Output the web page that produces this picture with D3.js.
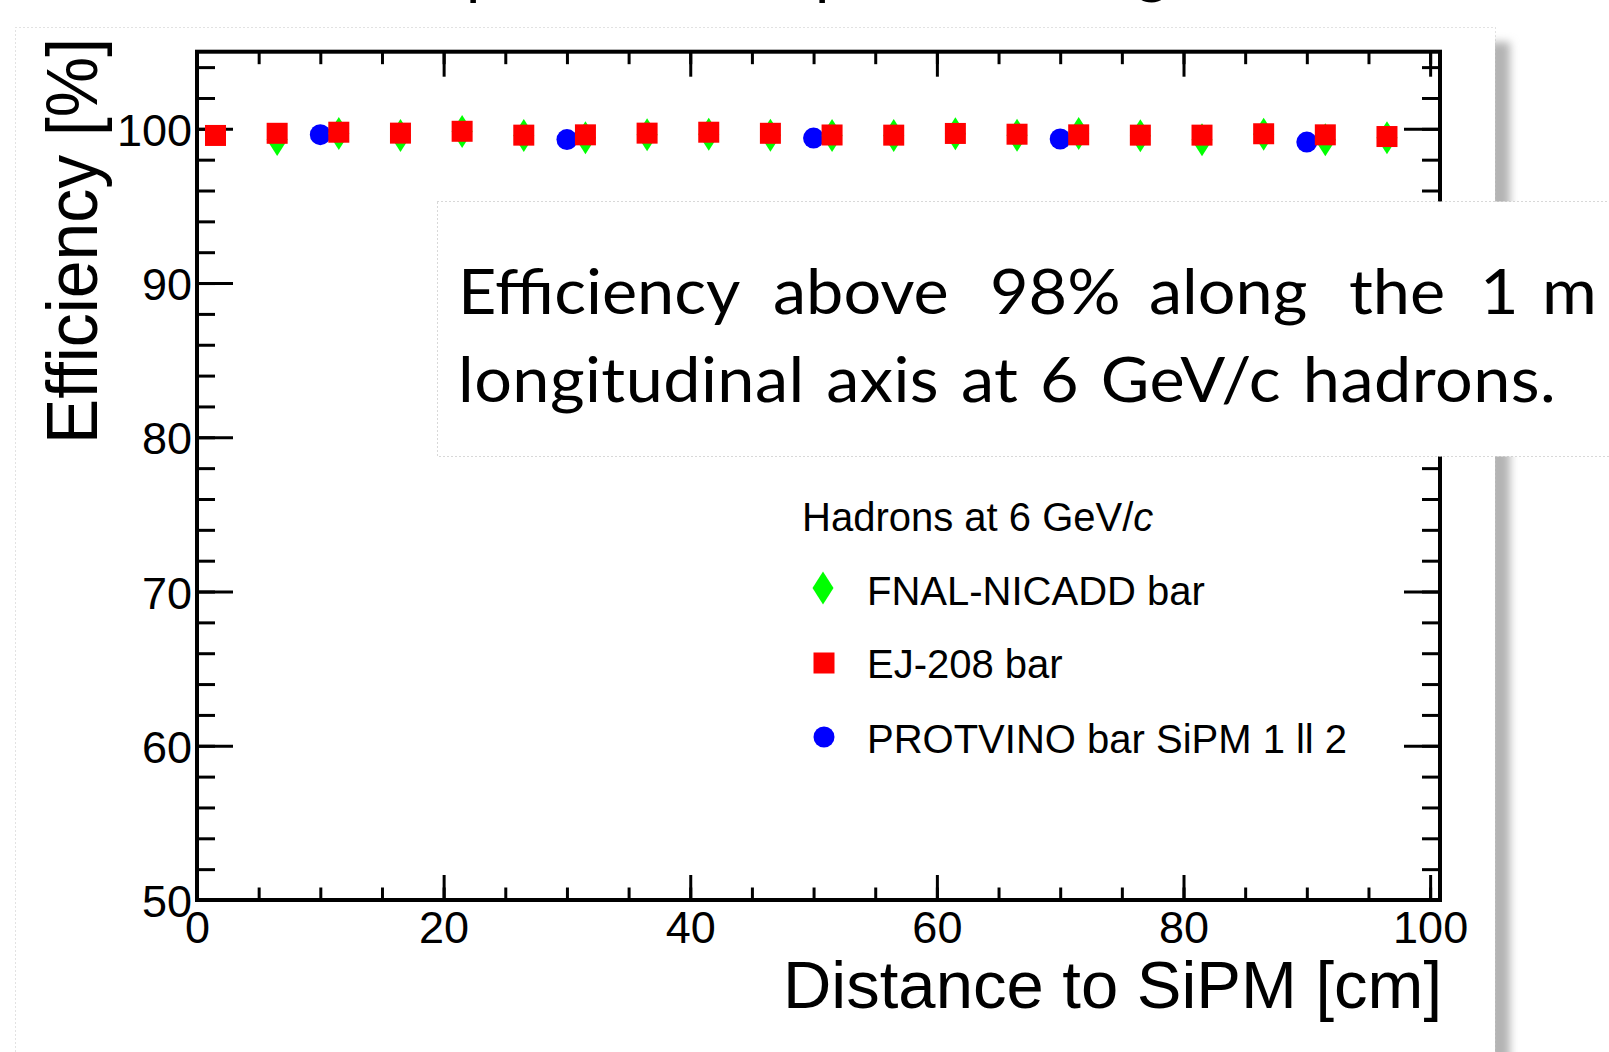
<!DOCTYPE html>
<html>
<head>
<meta charset="utf-8">
<script src="https://cdn.jsdelivr.net/npm/d3@7/dist/d3.min.js"></script>
<style>
  html, body { margin: 0; padding: 0; background: #fff; overflow: hidden; }
  svg { display: block; }
  .axis text { font-family: "Liberation Sans", Arial, sans-serif; font-size: 45px; fill: #000; }
</style>
</head>
<body>
<svg id="chart" width="1609" height="1052"></svg>
<script>
// ---------------- data ----------------
const distEJ   = [1.5, 6.5, 11.5, 16.5, 21.5, 26.5, 31.5, 36.5, 41.5, 46.5, 51.5, 56.5, 61.5, 66.5, 71.5, 76.5, 81.5, 86.5, 91.5, 96.5];
const effEJ    = [99.57, 99.71, 99.78, 99.72, 99.84, 99.59, 99.61, 99.72, 99.78, 99.71, 99.60, 99.59, 99.70, 99.65, 99.61, 99.59, 99.59, 99.68, 99.61, 99.50];
const distFNAL = [6.5, 11.5, 16.5, 21.5, 26.5, 31.5, 36.5, 41.5, 46.5, 51.5, 56.5, 61.5, 66.5, 71.5, 76.5, 81.5, 86.5, 91.5, 96.5];
const effFNAL  = [99.31, 99.70, 99.57, 99.83, 99.57, 99.42, 99.61, 99.64, 99.59, 99.57, 99.57, 99.68, 99.59, 99.70, 99.55, 99.29, 99.65, 99.29, 99.42];
const distProt = [10, 30, 50, 70, 90];
const effProt  = [99.62, 99.30, 99.40, 99.34, 99.14];

const xMajorTicks = [0, 20, 40, 60, 80, 100];
const xMinorTicks = d3.range(0, 101, 5);
const yMajorTicks = [50, 60, 70, 80, 90, 100];
const yMinorTicks = d3.range(50, 105, 2);

const xTitle = "Distance to SiPM [cm]";
const yTitle = "Efficiency [%]";
const legendTitle = "Hadrons at 6 GeV/";
const legendTitleItalic = "c";
const seriesNames = ["FNAL-NICADD bar", "EJ-208 bar", "PROTVINO bar SiPM 1 ll 2"];
const seriesColors = ["#00ff00", "#ff0000", "#0000ff"];

const noteLine1 = ["Efficiency", "above", "98%", "along", "the", "1", "m"];
const noteLine1X = [458, 773, 990, 1149, 1349, 1480, 1542];
const noteLine2 = "longitudinal axis at 6 GeV/c hadrons.";

// ---------------- layout ----------------
const svg = d3.select("#chart");
const frame = { left: 197, right: 1440, top: 51.7, bottom: 900 };

const x = d3.scaleLinear().domain([0, 100.8]).range([frame.left, frame.right]);
const y = d3.scaleLinear().domain([50, 105]).range([frame.bottom, frame.top]);

const defs = svg.append("defs");
const blur = defs.append("filter").attr("id", "shadowBlur").attr("x", "-50%").attr("y", "-5%").attr("width", "200%").attr("height", "110%");
blur.append("feGaussianBlur").attr("stdDeviation", 4);

// slide title fragments (cut off at top edge)
const titleFrag = svg.append("g").attr("font-family", "Lato, sans-serif").attr("font-size", 62).attr("fill", "#000");
titleFrag.append("text").attr("x", 466).attr("y", -8).text("p");
titleFrag.append("text").attr("x", 815).attr("y", -8).text("p");
titleFrag.append("text").attr("x", 1136).attr("y", -9).text("g");

// picture shadow on the right
svg.append("rect").attr("x", 1488).attr("y", 42).attr("width", 22).attr("height", 1100)
  .attr("fill", "#b4b4b4").attr("filter", "url(#shadowBlur)");
// white picture area
svg.append("rect").attr("x", 15).attr("y", 27).attr("width", 1480).attr("height", 1100).attr("fill", "#fff");
svg.append("rect").attr("x", 15.5).attr("y", 27.5).attr("width", 1480).attr("height", 1100)
  .attr("fill", "none").attr("stroke", "#c4c4c4").attr("stroke-width", 1).attr("stroke-dasharray", "1 3");

// ---------------- axes ----------------
function styleAxis(g) {
  g.select(".domain").remove();
  g.selectAll(".tick line").attr("stroke", "#000").attr("stroke-width", 3);
}
// bottom
svg.append("g").attr("class", "axis").attr("transform", `translate(0,${frame.bottom})`)
  .call(d3.axisBottom(x).tickValues(xMinorTicks).tickSizeInner(-12.5).tickSizeOuter(0).tickFormat(""))
  .call(styleAxis);
svg.append("g").attr("class", "axis").attr("transform", `translate(0,${frame.bottom})`)
  .call(d3.axisBottom(x).tickValues(xMajorTicks).tickSizeInner(-25).tickSizeOuter(0).tickPadding(11).tickFormat(d3.format("d")))
  .call(styleAxis);
// top
svg.append("g").attr("class", "axis").attr("transform", `translate(0,${frame.top})`)
  .call(d3.axisTop(x).tickValues(xMinorTicks).tickSizeInner(-12.5).tickSizeOuter(0).tickFormat(""))
  .call(styleAxis);
svg.append("g").attr("class", "axis").attr("transform", `translate(0,${frame.top})`)
  .call(d3.axisTop(x).tickValues(xMajorTicks).tickSizeInner(-25).tickSizeOuter(0).tickFormat(""))
  .call(styleAxis);
// left
svg.append("g").attr("class", "axis").attr("transform", `translate(${frame.left},0)`)
  .call(d3.axisLeft(y).tickValues(yMinorTicks).tickSizeInner(-18).tickSizeOuter(0).tickFormat(""))
  .call(styleAxis);
const yAxisG = svg.append("g").attr("class", "axis").attr("transform", `translate(${frame.left},0)`)
  .call(d3.axisLeft(y).tickValues(yMajorTicks).tickSizeInner(-36).tickSizeOuter(0).tickPadding(5).tickFormat(d3.format("d")))
  .call(styleAxis);
yAxisG.selectAll(".tick text").attr("dy", "0.37em");
// right
svg.append("g").attr("class", "axis").attr("transform", `translate(${frame.right},0)`)
  .call(d3.axisRight(y).tickValues(yMinorTicks).tickSizeInner(-18).tickSizeOuter(0).tickFormat(""))
  .call(styleAxis);
svg.append("g").attr("class", "axis").attr("transform", `translate(${frame.right},0)`)
  .call(d3.axisRight(y).tickValues(yMajorTicks).tickSizeInner(-36).tickSizeOuter(0).tickFormat(""))
  .call(styleAxis);

// frame
svg.append("rect").attr("x", frame.left).attr("y", frame.top)
  .attr("width", frame.right - frame.left).attr("height", frame.bottom - frame.top)
  .attr("fill", "none").attr("stroke", "#000").attr("stroke-width", 4);

// titles
svg.append("text").attr("x", 1442).attr("y", 1008).attr("text-anchor", "end")
  .attr("font-family", "Liberation Sans, Arial, sans-serif").attr("font-size", 67).text(xTitle);
svg.append("text").attr("transform", "translate(97,38) rotate(-90)").attr("text-anchor", "end")
  .attr("font-family", "Liberation Sans, Arial, sans-serif").attr("font-size", 72)
  .attr("textLength", 406).attr("lengthAdjust", "spacingAndGlyphs").text(yTitle);

// ---------------- markers ----------------
const diamond = (cx, cy) => `M${cx},${cy - 16.5}L${cx + 10.5},${cy}L${cx},${cy + 16.5}L${cx - 10.5},${cy}Z`;

svg.append("g").selectAll("circle").data(distProt.map((d, i) => [d, effProt[i]])).join("circle")
  .attr("cx", d => x(d[0])).attr("cy", d => y(d[1])).attr("r", 10.5).attr("fill", seriesColors[2]);
svg.append("g").selectAll("path").data(distFNAL.map((d, i) => [d, effFNAL[i]])).join("path")
  .attr("d", d => diamond(x(d[0]), y(d[1]))).attr("fill", seriesColors[0]);
svg.append("g").selectAll("rect").data(distEJ.map((d, i) => [d, effEJ[i]])).join("rect")
  .attr("x", d => x(d[0]) - 10.5).attr("y", d => y(d[1]) - 10.5).attr("width", 21).attr("height", 21)
  .attr("fill", seriesColors[1]);

// ---------------- legend ----------------
const leg = svg.append("g").attr("font-family", "Liberation Sans, Arial, sans-serif").attr("font-size", 40).attr("fill", "#000");
const lt = leg.append("text").attr("x", 802).attr("y", 531);
lt.append("tspan").text(legendTitle);
lt.append("tspan").attr("font-style", "italic").text(legendTitleItalic);
const legY = [605, 678, 753];
const legMarkY = [588, 663, 737];
seriesNames.forEach((name, i) => {
  leg.append("text").attr("x", 867).attr("y", legY[i]).text(name);
});
leg.append("path").attr("d", diamond(823, legMarkY[0])).attr("fill", seriesColors[0]);
leg.append("rect").attr("x", 824 - 10.5).attr("y", legMarkY[1] - 10.5).attr("width", 21).attr("height", 21).attr("fill", seriesColors[1]);
leg.append("circle").attr("cx", 824).attr("cy", legMarkY[2]).attr("r", 10.5).attr("fill", seriesColors[2]);

// ---------------- note box ----------------
svg.append("rect").attr("x", 437.5).attr("y", 201.5).attr("width", 1300).attr("height", 255)
  .attr("fill", "#fff").attr("stroke", "#b0b0b0").attr("stroke-width", 1).attr("stroke-dasharray", "1 3");
const note = svg.append("g").attr("font-family", "Lato, sans-serif").attr("font-size", 62).attr("fill", "#000");
noteLine1.forEach((w, i) => {
  note.append("text").attr("transform", `translate(${noteLine1X[i]},314) scale(1.074,1)`).text(w);
});
note.append("text").attr("transform", "translate(458,402) scale(1.074,1)")
  .attr("word-spacing", 4).attr("letter-spacing", 0.4).text(noteLine2);
</script>
</body>
</html>
